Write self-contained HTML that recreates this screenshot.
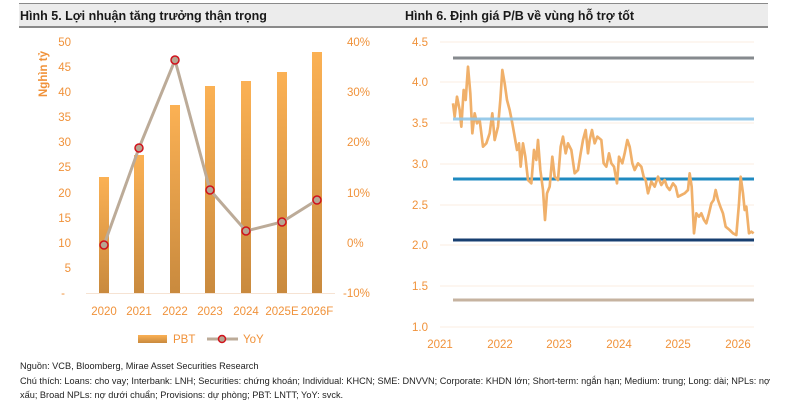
<!DOCTYPE html>
<html><head><meta charset="utf-8"><style>
body{margin:0;width:786px;height:407px;background:#fff;font-family:"Liberation Sans",sans-serif;overflow:hidden;position:relative}
.hdr{position:absolute;top:3px;height:25px;background:#ececec;border-top:1px solid #8a8a8a;border-bottom:2px solid #8a8a8a;font-weight:bold;font-size:12.5px;color:#1a1a1a;line-height:25px;box-sizing:border-box}
.ft{position:absolute;left:20px;font-size:9.2px;color:#222;white-space:nowrap}
svg text{font-family:"Liberation Sans",sans-serif}
</style></head><body>
<div class="hdr" style="left:19px;width:374px;padding-left:1px">Hình 5. Lợi nhuận tăng trưởng thận trọng</div>
<div class="hdr" style="left:393px;width:375px;padding-left:12px">Hình 6. Định giá P/B về vùng hỗ trợ tốt</div>
<svg width="786" height="407" style="position:absolute;left:0;top:0">
<defs><linearGradient id="bg" x1="0" y1="0" x2="0" y2="1"><stop offset="0" stop-color="#fbb154"/><stop offset="1" stop-color="#c98a3e"/></linearGradient></defs>
<g fill="#f0923a" font-size="11.5">
<g text-anchor="end">
<text x="71" y="46">50</text><text x="71" y="71">45</text><text x="71" y="96">40</text><text x="71" y="121">35</text><text x="71" y="146">30</text><text x="71" y="171">25</text><text x="71" y="197">20</text><text x="71" y="222">15</text><text x="71" y="247">10</text><text x="71" y="272">5</text><text x="65" y="297">-</text>
</g>
<text x="347" y="46">40%</text><text x="347" y="96">30%</text><text x="347" y="146">20%</text><text x="347" y="197">10%</text><text x="347" y="247">0%</text><text x="343" y="297">-10%</text>
<text transform="translate(47,97) rotate(-90)" font-weight="bold" font-size="11.5">Nghìn tỷ</text>
<g text-anchor="middle"><text x="104" y="315">2020</text><text x="139" y="315">2021</text><text x="175" y="315">2022</text><text x="210" y="315">2023</text><text x="246" y="315">2024</text><text x="282" y="315">2025E</text><text x="317" y="315">2026F</text></g>
<text x="173" y="343">PBT</text><text x="243" y="343">YoY</text>
</g>
<line x1="86" y1="293.5" x2="335" y2="293.5" stroke="#f6e3d3"/>
<g fill="url(#bg)">
<rect x="99" y="177" width="10" height="116"/><rect x="134" y="155" width="10" height="138"/><rect x="170" y="105" width="10" height="188"/><rect x="205" y="86" width="10" height="207"/><rect x="241" y="81" width="10" height="212"/><rect x="277" y="72" width="10" height="221"/><rect x="312" y="52" width="10" height="241"/>
</g>
<rect x="138" y="335" width="29" height="8" fill="url(#bg)"/>
<polyline points="104,245 139,148 175,60 210,190 246,231 282,222 317,200" fill="none" stroke="#bcab98" stroke-width="3"/>
<line x1="207" y1="339" x2="238" y2="339" stroke="#bcab98" stroke-width="3"/>
<g fill="#b7a592" stroke="#d0121b" stroke-width="1.5">
<circle cx="104" cy="245" r="4"/><circle cx="139" cy="148" r="4"/><circle cx="175" cy="60" r="4"/><circle cx="210" cy="190" r="4"/><circle cx="246" cy="231" r="4"/><circle cx="282" cy="222" r="4"/><circle cx="317" cy="200" r="4"/><circle cx="222" cy="339" r="3.5"/>
</g>
<g stroke="#fbece2" stroke-width="1">
<line x1="440" y1="42" x2="754" y2="42"/><line x1="440" y1="82" x2="754" y2="82"/><line x1="440" y1="123" x2="754" y2="123"/><line x1="440" y1="164" x2="754" y2="164"/><line x1="440" y1="205" x2="754" y2="205"/><line x1="440" y1="245" x2="754" y2="245"/><line x1="440" y1="286" x2="754" y2="286"/><line x1="440" y1="327" x2="754" y2="327"/>
</g>
<g fill="#f0923a" font-size="11.5">
<g text-anchor="end"><text x="428" y="46">4.5</text><text x="428" y="86">4.0</text><text x="428" y="127">3.5</text><text x="428" y="168">3.0</text><text x="428" y="209">2.5</text><text x="428" y="249">2.0</text><text x="428" y="290">1.5</text><text x="428" y="331">1.0</text></g>
<g text-anchor="middle"><text x="440" y="348">2021</text><text x="500" y="348">2022</text><text x="559" y="348">2023</text><text x="619" y="348">2024</text><text x="678" y="348">2025</text><text x="738" y="348">2026</text></g>
</g>
<g stroke-width="3">
<line x1="453" y1="58" x2="754" y2="58" stroke="#868a8e"/>
<line x1="453" y1="179" x2="754" y2="179" stroke="#1f8ac0"/>
<line x1="453" y1="240" x2="754" y2="240" stroke="#183f70"/>
<line x1="453" y1="300" x2="754" y2="300" stroke="#c6b3a0"/>
</g>
<g transform="translate(393,0) scale(0.33333)">
<polyline fill="none" stroke="#f0b06a" stroke-width="8" stroke-linejoin="round" points="180,310 185,350 192,290 200,330 205,380 212,270 218,300 225,200 232,280 238,400 245,340 252,370 260,360 270,440 280,430 290,400 298,340 305,420 315,380 322,300 328,210 335,250 342,300 350,330 358,370 365,410 372,450 378,430 383,500 390,430 397,470 405,540 415,550 423,450 430,480 435,420 442,510 450,570 456,660 462,580 470,560 478,470 485,530 495,540 503,440 510,410 518,460 525,430 535,450 545,520 555,510 563,460 570,420 578,390 585,460 590,420 597,390 605,430 613,410 625,420 632,490 640,500 648,460 655,490 663,500 672,550 678,470 688,490 695,460 703,420 710,440 718,490 725,510 735,490 745,500 752,530 758,540 765,580 775,545 785,560 795,530 805,555 815,540 822,560 830,570 840,550 848,560 855,590 865,585 875,580 885,570 890,520 896,560 903,700 910,640 918,650 925,640 933,660 940,670 948,640 955,610 962,600 968,570 975,600 982,620 990,640 998,680 1010,690 1020,700 1030,705 1038,610 1043,530 1050,580 1055,630 1060,620 1068,700 1075,695 1082,700"/>
</g>
<line x1="453" y1="119" x2="754" y2="119" stroke="#8fc6e8" stroke-width="3" opacity="0.9"/>
</svg>
<div class="ft" style="top:361px">Nguồn: VCB, Bloomberg, Mirae Asset Securities Research</div>
<div class="ft" style="top:376px">Chú thích: Loans: cho vay; Interbank: LNH; Securities: chứng khoán; Individual: KHCN; SME: DNVVN; Corporate: KHDN lớn; Short-term: ngắn hạn; Medium: trung; Long: dài; NPLs: nợ</div>
<div class="ft" style="top:390px">xấu; Broad NPLs: nợ dưới chuẩn; Provisions: dự phòng; PBT: LNTT; YoY: svck.</div>
</body></html>
